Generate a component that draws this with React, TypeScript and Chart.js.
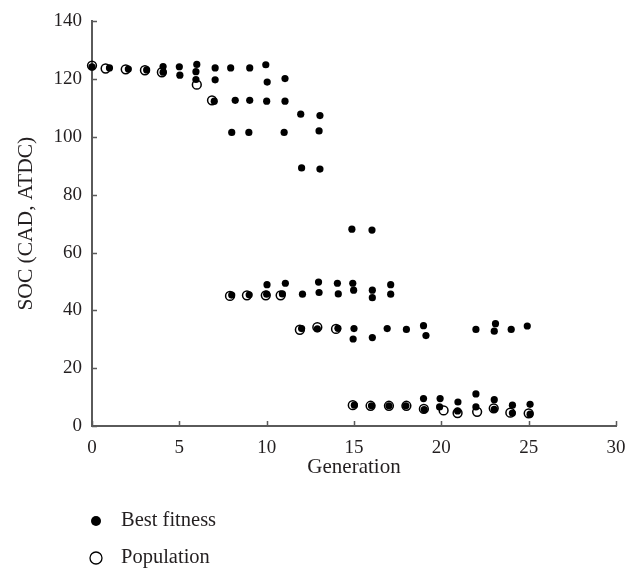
import React, { useEffect, useRef } from 'react';
import { Chart, registerables } from 'chart.js';

Chart.register(...registerables);

// Best fitness points (generation, SOC)
const bestGen = [
  0, 1.0, 2.08, 3.13,
  4.07, 4.07,
  5.0, 5.03,
  6.0, 5.95, 5.95,
  7.05, 7.05, 7.0,
  7.94, 8.2, 8.0, 8.0,
  9.03, 9.03, 8.98, 9.0,
  9.95, 10.03, 10.0, 10.02, 10.0,
  11.05, 11.05, 11.0, 11.07, 10.9,
  11.95, 12.0, 12.05, 12.0,
  13.05, 13.0, 13.05, 12.97, 13.0, 12.9,
  14.05, 14.1, 14.08,
  14.88, 14.93, 14.98, 15.0, 14.95, 15.02,
  16.03, 16.05, 16.05, 16.05, 16.0,
  17.1, 17.1, 16.9, 17.0,
  18.0, 17.97,
  18.98, 19.12, 18.98, 19.02,
  19.93, 19.9,
  20.95, 20.93,
  21.98, 21.98, 21.98,
  23.1, 23.03, 23.03, 23.03,
  24.0, 24.07, 24.07,
  24.92, 25.08, 25.08,
];
const bestSOC = [
  124.3, 123.9, 123.5, 123.2,
  124.4, 122.4,
  124.3, 121.4,
  125.1, 122.6, 119.9,
  123.9, 119.8, 112.4,
  123.9, 112.7, 101.6, 45.3,
  123.9, 112.7, 101.6, 45.4,
  125.0, 119.0, 112.4, 48.9, 45.6,
  120.2, 112.4, 101.6, 49.4, 45.7,
  107.9, 89.3, 45.6, 33.7,
  107.4, 102.1, 88.9, 49.8, 46.2, 33.6,
  49.4, 45.7, 33.8,
  68.1, 49.4, 47.0, 33.7, 30.1, 7.2,
  67.8, 47.0, 44.4, 30.6, 7.0,
  48.9, 45.6, 33.7, 7.0,
  33.4, 7.0,
  34.7, 31.3, 9.5, 5.7,
  9.5, 6.6,
  8.3, 5.2,
  33.4, 11.1, 6.6,
  35.4, 32.8, 9.1, 5.8,
  33.4, 7.2, 4.5,
  34.6, 7.5, 4.1,
];

// Population points (generation, SOC)
const popGen = [
  0, 0.78, 1.93, 3.03, 4.0, 6.0, 6.87, 7.9, 8.87, 9.95, 10.8, 11.9, 12.9,
  13.97, 14.93, 15.95, 17.0, 18.0, 19.0, 20.13, 20.93, 22.05, 23.0, 23.95, 25.0,
];
const popSOC = [
  124.7, 123.7, 123.4, 123.1, 122.4, 118.1, 112.7, 45.0, 45.2, 45.2, 45.2, 33.3, 34.2,
  33.6, 7.2, 7.0, 7.0, 7.0, 5.9, 5.4, 4.5, 4.9, 6.1, 4.6, 4.4,
];

const seriesLabels = ['Best fitness', 'Population'];
const xTitle = 'Generation';
const yTitle = 'SOC (CAD, ATDC)';
const xMin = 0;
const xMax = 30;
const xStep = 5;
const yMin = 0;
const yMax = 140;
const yStep = 20;

const FONT = "'Liberation Serif', 'Times New Roman', serif";
const TEXT = '#231f20';
const AXIS = '#5a5a5a';

const innerTicks = {
  id: 'innerTicks',
  afterDraw(chart: any) {
    const { ctx, chartArea, scales } = chart;
    ctx.save();
    ctx.strokeStyle = AXIS;
    ctx.lineWidth = 1.5;
    ctx.beginPath();
    scales.x.ticks.forEach((t: any) => {
      const px = Math.round(scales.x.getPixelForValue(t.value)) + 0.5;
      ctx.moveTo(px, chartArea.bottom);
      ctx.lineTo(px, chartArea.bottom - 5);
    });
    scales.y.ticks.forEach((t: any) => {
      const py = Math.round(scales.y.getPixelForValue(t.value)) + 0.5;
      ctx.moveTo(chartArea.left, py);
      ctx.lineTo(chartArea.left + 5, py);
    });
    ctx.stroke();
    ctx.restore();
  },
};

const customLegend = {
  id: 'customLegend',
  afterDraw(chart: any) {
    const { ctx } = chart;
    const items = chart.data.datasets;
    ctx.save();
    ctx.font = `20.5px ${FONT}`;
    ctx.textBaseline = 'middle';
    ctx.textAlign = 'left';
    items.forEach((ds: any, i: number) => {
      const cx = 96;
      const cy = 521 + i * 37;
      ctx.beginPath();
      if (i === 0) {
        ctx.fillStyle = '#000';
        ctx.arc(cx, cy, 5, 0, Math.PI * 2);
        ctx.fill();
      } else {
        ctx.strokeStyle = '#000';
        ctx.lineWidth = 1.3;
        ctx.arc(cx, cy, 6, 0, Math.PI * 2);
        ctx.stroke();
      }
      ctx.fillStyle = TEXT;
      ctx.fillText(ds.label, 121, cy);
    });
    ctx.restore();
  },
};

export default function App() {
  const ref = useRef<HTMLCanvasElement>(null);

  useEffect(() => {
    if (!ref.current) return;
    const bestData = bestGen.map((g, i) => ({ x: g, y: bestSOC[i] }));
    const popData = popGen.map((g, i) => ({ x: g, y: popSOC[i] }));
    const chart = new Chart(ref.current, {
      type: 'scatter',
      data: {
        datasets: [
          {
            label: seriesLabels[0],
            data: bestData,
            pointRadius: 3.6,
            pointBorderWidth: 0,
            backgroundColor: '#000',
            borderColor: '#000',
            clip: false as any,
          },
          {
            label: seriesLabels[1],
            data: popData,
            pointRadius: 4.4,
            pointBorderWidth: 1.5,
            backgroundColor: 'rgba(0,0,0,0)',
            borderColor: '#000',
            clip: false as any,
          },
        ],
      },
      options: {
        animation: false,
        responsive: false,
        events: [],
        layout: { padding: { top: 14, right: 22, left: 0, bottom: 0 } },
        plugins: {
          legend: { display: false },
          tooltip: { enabled: false },
        },
        scales: {
          x: {
            type: 'linear',
            min: xMin,
            max: xMax,
            ticks: {
              stepSize: xStep,
              padding: 11,
              maxRotation: 0,
              color: TEXT,
              font: { family: FONT, size: 19 },
            },
            grid: { drawOnChartArea: false, drawTicks: false },
            border: { display: true, color: AXIS, width: 2 },
            title: {
              display: true,
              text: xTitle,
              color: TEXT,
              font: { family: FONT, size: 21 },
              padding: { top: 0, bottom: 93 },
            },
            afterFit: (s: any) => {
              s.height = 147;
            },
          },
          y: {
            type: 'linear',
            min: yMin,
            max: yMax,
            ticks: {
              stepSize: yStep,
              padding: 10,
              color: TEXT,
              font: { family: FONT, size: 19 },
            },
            grid: { drawOnChartArea: false, drawTicks: false },
            border: { display: true, color: AXIS, width: 2 },
            title: {
              display: true,
              text: yTitle,
              color: TEXT,
              font: { family: FONT, size: 21.5 },
              padding: { top: 13, bottom: 0 },
            },
            afterFit: (s: any) => {
              s.width = 92;
            },
          },
        },
      },
      plugins: [innerTicks, customLegend],
    });
    return () => chart.destroy();
  }, []);

  return (
    <div style={{ position: 'absolute', left: 0, top: 0, width: 638, height: 573, background: '#fff' }}>
      <canvas ref={ref} width={638} height={573} />
    </div>
  );
}
